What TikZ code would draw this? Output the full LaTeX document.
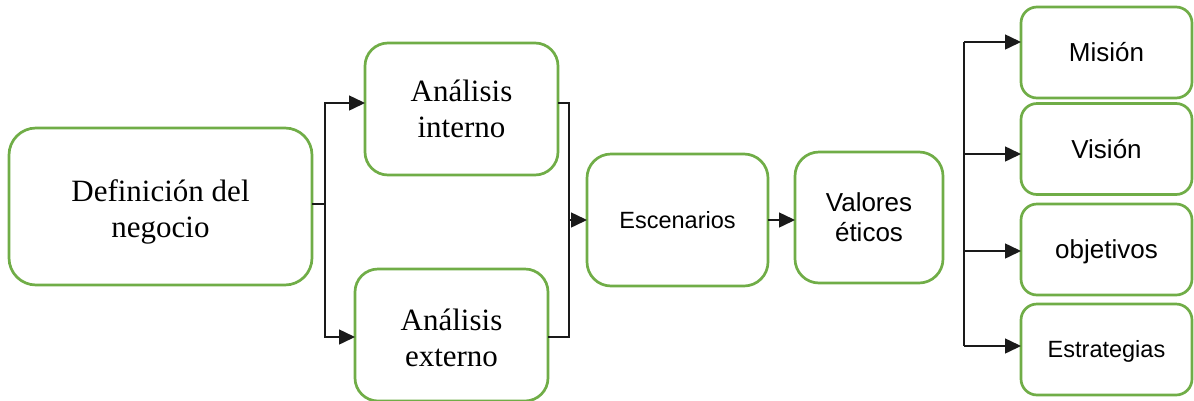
\documentclass[tikz,border=0pt]{standalone}
\usepackage{fontspec}
\newfontfamily\tnrfont{Liberation Serif}
\newfontfamily\arlfont{Liberation Sans}
\usetikzlibrary{arrows.meta,calc}
\definecolor{boxgreen}{HTML}{70AD47}
\definecolor{linegray}{HTML}{1A1A1A}
\begin{document}
\begin{tikzpicture}[x=1pt,y=-1pt,
  gbox/.style={draw=boxgreen, line width=2.7pt, fill=white, inner sep=0pt, outer sep=0pt},
  conn/.style={draw=linegray, line width=1.5pt},
  arr/.style={conn, -{Triangle[length=16pt,width=15pt]}},
  serif/.style={font=\tnrfont\fontsize{31}{36}\selectfont, align=center},
  sansone/.style={font=\arlfont\fontsize{26}{30}\selectfont, text height=18.6pt, text depth=0pt},
  sanssmall/.style={font=\arlfont\fontsize{23.5}{28}\selectfont, text height=16.8pt, text depth=0pt},
  sanstwo/.style={font=\arlfont\fontsize{26}{30}\selectfont, align=center},
  rbox/.style={gbox, minimum width=171pt, minimum height=91pt, rounded corners=16pt},
]
\useasboundingbox (0,0) rectangle (1194,400);

% boxes
\node[gbox, minimum width=303pt, minimum height=157pt, rounded corners=27pt] (def) at (160.5,206.5) {};
\node[serif] (deftxt) at ($(def.center)+(0,5)$) {Definición del\\negocio};

\node[gbox, serif, minimum width=193pt, minimum height=132pt, rounded corners=23pt] (ai) at (461.5,109) {Análisis\\interno};

\node[gbox, minimum width=193pt, minimum height=132pt, rounded corners=23pt] (ae) at (451.5,335) {};
\node[serif] (aetxt) at ($(ae.center)+(0,3)$) {Análisis\\externo};

\node[gbox, sanssmall, minimum width=181pt, minimum height=132pt, rounded corners=24pt] (esc) at (677.5,220) {Escenarios};

\node[gbox, sanstwo, minimum width=148pt, minimum height=131pt, rounded corners=24pt] (val) at (869,217.5) {Valores\\éticos};

\node[rbox, sansone] (mis) at (1106.5,52.5) {Misión};
\node[rbox, sansone] (vis) at (1106.5,149) {Visión};
\node[rbox, sansone] (obj) at (1106.5,249.5) {objetivos};
\node[rbox, sanssmall] (est) at (1106.5,349.5) {Estrategias};

% left fork
\coordinate (j1) at (325,204);
\coordinate (j1t) at (325,103);
\coordinate (j1b) at (325,337);
\draw[conn] (def.east|-j1) -- (j1);
\draw[arr] (j1) -- (j1t) -- (ai.west|-j1t);
\draw[arr] (j1) -- (j1b) -- (ae.west|-j1b);

% join to Escenarios
\coordinate (j2) at (569,220);
\draw[conn] (ai.east|-j1t) -| (j2);
\draw[conn] (ae.east|-j1b) -| (j2);
\draw[arr] (j2) -- (esc.west|-j2);
\draw[arr] (esc.east) -- (val.west|-esc.east);

% right bracket
\coordinate (k1) at (964,42);
\coordinate (k2) at (964,154);
\coordinate (k3) at (964,251);
\coordinate (k4) at (964,346);
\draw[conn] (k1) -- (k4);
\draw[arr] (k1) -- (mis.west|-k1);
\draw[arr] (k2) -- (vis.west|-k2);
\draw[arr] (k3) -- (obj.west|-k3);
\draw[arr] (k4) -- (est.west|-k4);
\end{tikzpicture}
\end{document}
